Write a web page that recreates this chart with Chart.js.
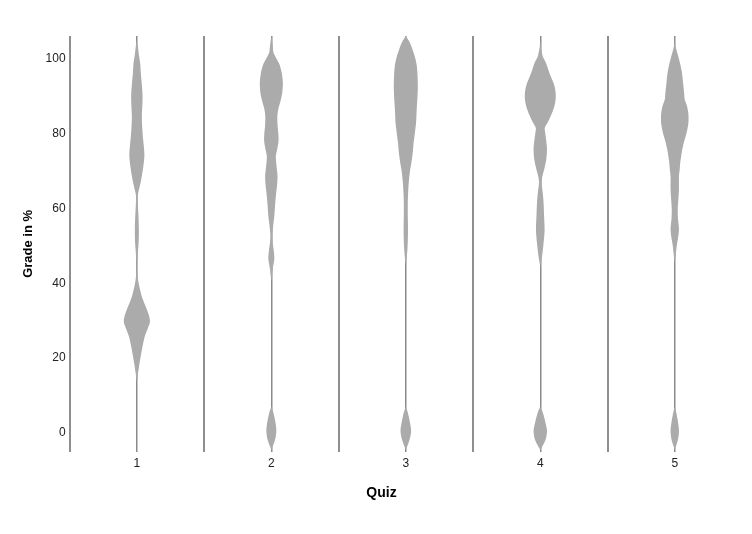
<!DOCTYPE html>
<html>
<head>
<meta charset="utf-8">
<script src="https://cdn.jsdelivr.net/npm/chart.js@4"></script>
<style>
  html, body { margin: 0; padding: 0; background: #ffffff; }
  #c { display: block; }
</style>
</head>
<body>
<canvas id="c" width="752" height="534"></canvas>
<script>
// ---------- DATA ----------
const categories = ['1', '2', '3', '4', '5'];
const yTicks = [0, 20, 40, 60, 80, 100];
const yTitle = 'Grade in %';
const xTitle = 'Quiz';

// Violin outlines: [grade, relative density] knots
const quiz1Main = [[13.5,0],[15,0.7],[18.7,2.7],[22.2,5],[25.7,7.8],[28,11],[29.5,13],[31,12.5],[33,10],[36.4,5],[38.5,3],[40,1.8],[42,0.8],[45.4,0.5],[48,1],[51,1.8],[54.5,2],[58,1.6],[61,1],[63,0.8],[64,1.3],[66.8,3.7],[70.3,6],[73.9,7.5],[76.5,7],[79.2,6],[82,5.3],[84.6,5],[87.5,5.5],[90,5.7],[93,5],[96,4],[98.8,3.3],[101,2],[103.3,1],[105,0]];
const quiz1Zero = [];

const quiz2Main = [[40.5,0],[42,0.7],[44,1.5],[46.5,3],[48.5,2.5],[51,1.3],[53,1],[55,1.7],[58,3],[61,3.8],[64,4.8],[66,5.7],[68.5,6.2],[71,5.3],[73.9,4.5],[76,6],[78,7.2],[80,7],[82,6.3],[84.5,6],[86.5,7],[89,9.5],[91,11],[93.5,11.5],[96,10.5],[98.5,8],[100,5],[101.5,2.2],[103,1.5],[104.5,0.8],[106,0]];
const quiz2Zero = [[-4.5,0],[-2,3.5],[0.5,5],[3,4],[5.5,2],[7,0]];

const quiz3Main = [[45,0],[47,1],[50,1.8],[54,2.2],[58,2],[61.5,2],[64,2.3],[67,3],[70,4.2],[72,5.5],[75,7],[77.5,7.8],[80,9],[83,10.3],[86,10.8],[89,11.5],[92,12],[95,11.8],[98,11],[100,9.5],[102.4,6.7],[104.5,3.5],[106,0]];
const quiz3Zero = [[-4.5,0],[-2,3.5],[0.5,5.3],[3,4],[5.5,2],[7,0]];

const quiz4Main = [[44.5,0],[47,1.7],[50,3],[54,4.3],[58,3.8],[61.5,3.3],[64,2.5],[66.8,1.3],[68.5,2],[70.5,4],[73,6],[75.7,6.7],[78,6],[80,5],[81.5,4.5],[83,7.5],[85,11],[87,13.8],[89,15.3],[91,15.3],[93,13.8],[95.3,10.3],[97,8],[98.8,5.7],[100.5,2.5],[101.5,1.7],[103,0.6],[105,0]];
const quiz4Zero = [[-4.5,0],[-2,5],[0.5,6.7],[3,5],[5.5,2.5],[7,0]];

const quiz5Main = [[45.5,0],[47.5,1],[50,2],[52.5,3.5],[54.5,4.2],[57,3.3],[59.6,3],[62,3.5],[65,4.2],[68.5,4.2],[70.5,5],[72.2,5.5],[75.7,7.5],[78,9.5],[79.5,11.2],[81,12.5],[83,13.7],[85.5,13.5],[87.5,12],[89,10],[91,9.3],[93.5,8.3],[95.5,7.5],[97,6.7],[99,5],[100.7,3.3],[102.5,1.5],[104,0.3],[106,0]];
const quiz5Zero = [[-4.5,0],[-2,3],[0.5,4.2],[3,3.2],[5.5,1.5],[7,0]];

const violins = [
  [quiz1Main, quiz1Zero],
  [quiz2Main, quiz2Zero],
  [quiz3Main, quiz3Zero],
  [quiz4Main, quiz4Zero],
  [quiz5Main, quiz5Zero]
];

// ---------- STYLE ----------
const DENSITY_TO_X = 1 / 134.4;   // density unit -> category units
const FILL = '#ababab';
const SEP_COLOR = '#8e8e8e';
const CENTER_COLOR = '#8a8a8a';
const FONT = '"Liberation Sans", Arial, sans-serif';

function outline(center, knots) {
  const right = knots.map(([g, d]) => ({ x: center + d * DENSITY_TO_X, y: g }));
  const left = knots.slice().reverse().map(([g, d]) => ({ x: center - d * DENSITY_TO_X, y: g }));
  return right.concat(left);
}

const datasets = [];
violins.forEach((parts, i) => {
  parts.forEach(knots => {
    if (!knots.length) return;
    datasets.push({
      data: outline(i + 1, knots),
      showLine: true,
      fill: 'shape',
      backgroundColor: FILL,
      borderColor: FILL,
      borderWidth: 0,
      pointRadius: 0,
      tension: 0.3
    });
  });
});

const xTickValues = [];
for (let v = 0.5; v <= categories.length + 0.5; v += 0.5) xTickValues.push(v);

new Chart(document.getElementById('c'), {
  type: 'scatter',
  data: { datasets },
  options: {
    responsive: false,
    animation: false,
    layout: { padding: { left: 21, right: 10, top: 36, bottom: 22 } },
    plugins: {
      legend: { display: false },
      tooltip: { enabled: false },
      title: {
        display: true,
        text: xTitle,
        position: 'bottom',
        color: '#000000',
        font: { family: FONT, size: 14, weight: 'bold' },
        padding: { top: 9, bottom: 10 }
      }
    },
    scales: {
      x: {
        type: 'linear',
        min: 0.5,
        max: categories.length + 0.5,
        z: 1,
        afterBuildTicks: s => { s.ticks = xTickValues.map(v => ({ value: v })); },
        ticks: {
          autoSkip: false,
          maxRotation: 0,
          padding: 5,
          color: '#222222',
          font: { family: FONT, size: 12 },
          callback: v => Number.isInteger(v) ? categories[v - 1] : ''
        },
        grid: {
          drawTicks: false,
          color: c => {
            const v = c.tick && c.tick.value;
            if (v === categories.length + 0.5) return 'rgba(0,0,0,0)';
            return Number.isInteger(v) ? CENTER_COLOR : SEP_COLOR;
          },
          lineWidth: c => {
            const v = c.tick && c.tick.value;
            return Number.isInteger(v) ? 1.5 : 2;
          }
        },
        border: { display: false }
      },
      y: {
        type: 'linear',
        min: -5,
        max: 106,
        afterBuildTicks: s => { s.ticks = yTicks.map(v => ({ value: v })); },
        ticks: {
          padding: 4,
          color: '#222222',
          font: { family: FONT, size: 12 }
        },
        grid: { display: false, drawTicks: false },
        border: { display: false },
        title: {
          display: true,
          text: yTitle,
          color: '#000000',
          font: { family: FONT, size: 13, weight: 'bold' },
          padding: { top: 0, bottom: 5 }
        }
      }
    }
  }
});
</script>
</body>
</html>
